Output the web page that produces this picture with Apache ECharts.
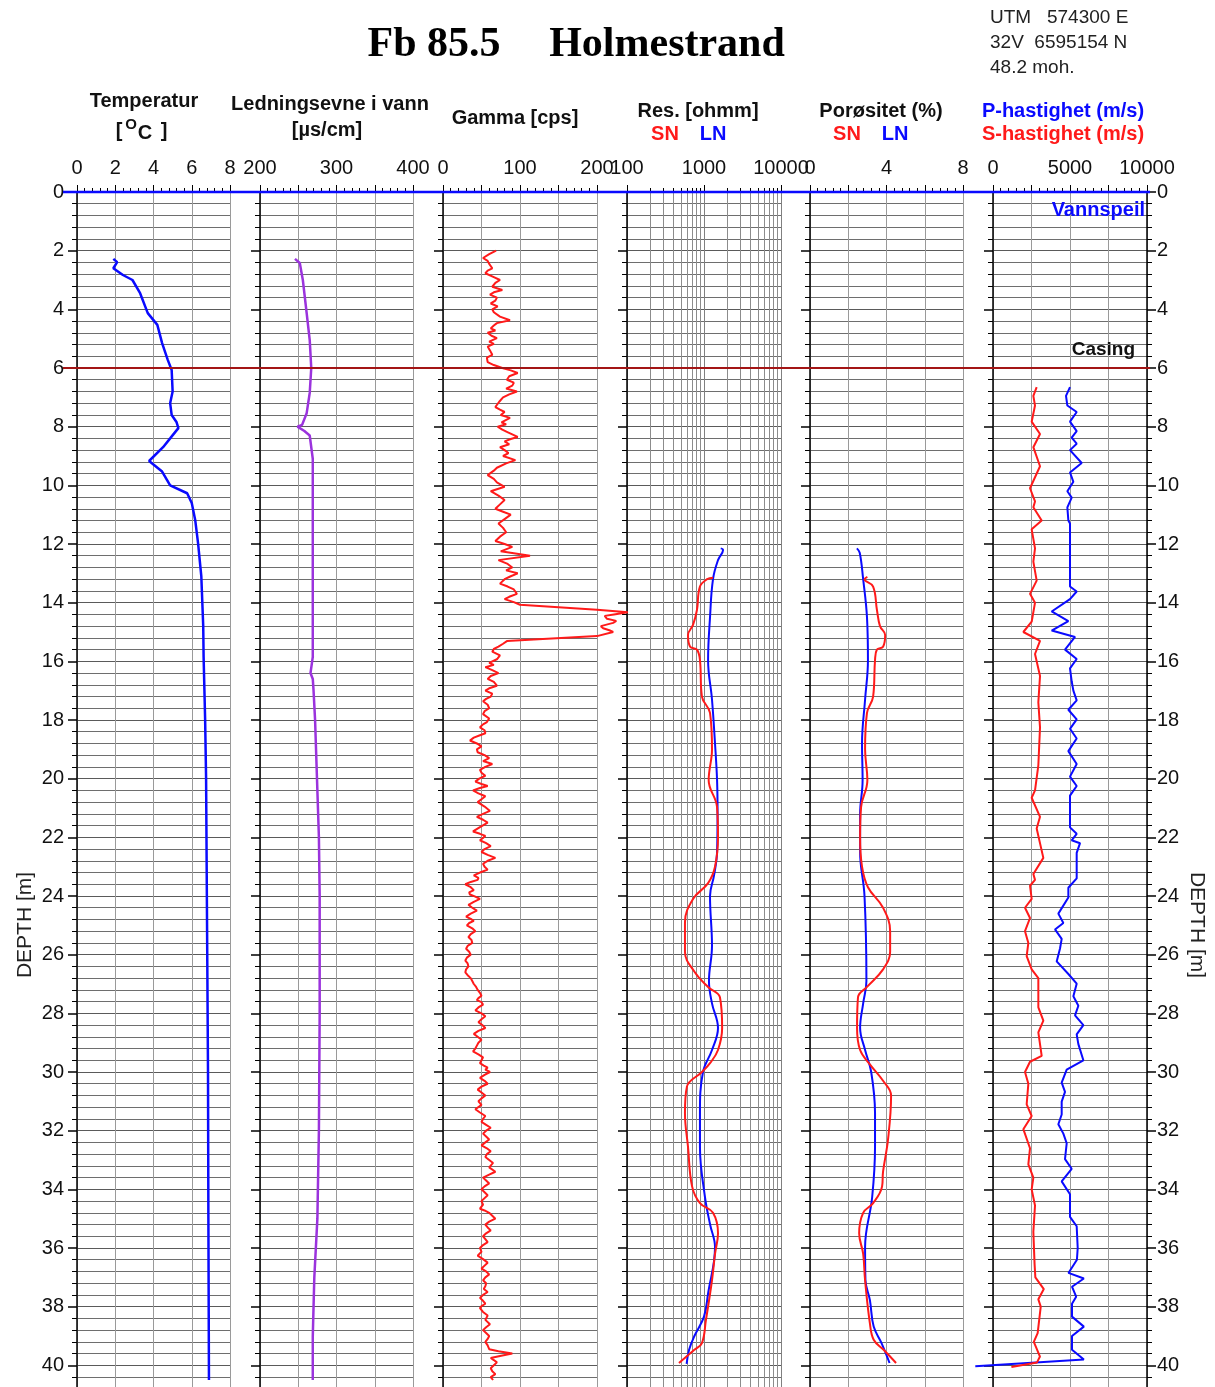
<!DOCTYPE html>
<html><head><meta charset="utf-8">
<script src="https://cdn.jsdelivr.net/npm/echarts@6/dist/echarts.min.js"></script>
<style>html,body{margin:0;padding:0;background:#fff;overflow:hidden}#c{width:1215px;height:1440px}</style>
</head><body><div id="c"></div>
<script>
// ---------------- DATA (depth [m], value) ----------------
const waterLevelDepth = 0;
const casingDepth = 6;

const temperature = [[2.28,1.9],[2.39,2.1],[2.6,1.9],[2.83,2.4],[3.0,2.9],[3.45,3.3],[4.13,3.7],[4.53,4.2],[5.15,4.45],[5.73,4.75],[6.07,4.95],[6.8,5.0],[7.2,4.87],[7.6,4.95],[7.84,5.2],[8.05,5.3],[8.4,4.87],[8.7,4.5],[9.17,3.77],[9.53,4.45],[10.0,4.87],[10.27,5.76],[10.6,6.0],[11.18,6.18],[11.97,6.33],[13.1,6.5],[14.8,6.6],[15.85,6.62],[18,6.7],[20,6.75],[25,6.8],[30,6.85],[35,6.87],[40.5,6.9]];

const conductivity = [[2.28,245.7],[2.42,252],[3.0,256],[4.13,261],[5.05,265],[6.0,267],[6.85,265],[7.54,261],[7.94,255],[8.0,249],[8.05,250],[8.15,258],[8.3,265],[9.1,269],[12,269],[15.85,269],[16.4,266],[16.6,269],[17,270],[18,272],[20,274.5],[22,277],[24,278],[28,278],[32,277],[35,275],[37,271],[39,269],[40.5,269]];

const gamma = [[2.0,69],[2.12,60],[2.25,52],[2.35,58],[2.45,60],[2.6,64],[2.68,58],[2.77,55],[2.9,66],[3.0,74],[3.1,68],[3.23,64],[3.34,77],[3.42,66],[3.5,61],[3.6,70],[3.7,68],[3.8,62],[3.9,71],[4.0,64],[4.1,66],[4.25,74],[4.37,87],[4.47,70],[4.55,66],[4.65,62],[4.72,68],[4.8,58],[4.9,63],[4.98,70],[5.1,60],[5.18,66],[5.27,58],[5.4,61],[5.55,64],[5.65,57],[5.8,58],[5.9,66],[6.0,77],[6.08,88],[6.17,97],[6.28,86],[6.4,83],[6.5,92],[6.6,90],[6.7,82],[6.8,96],[6.9,86],[7.0,78],[7.15,73],[7.33,68],[7.42,74],[7.5,80],[7.6,75],[7.7,87],[7.85,76],[7.92,82],[8.0,71],[8.1,77],[8.2,85],[8.35,97],[8.42,88],[8.5,80],[8.6,86],[8.7,74],[8.8,80],[8.9,85],[9.0,78],[9.14,94],[9.25,82],[9.4,70],[9.5,66],[9.65,58],[9.78,66],[9.9,70],[10.05,80],[10.2,62],[10.35,72],[10.5,80],[10.65,74],[10.8,68],[10.9,78],[11.0,88],[11.15,80],[11.3,72],[11.45,78],[11.6,82],[11.75,74],[11.9,68],[12.0,80],[12.1,90],[12.25,75],[12.4,113],[12.55,72],[12.68,84],[12.8,90],[12.9,82],[13.0,97],[13.1,88],[13.2,80],[13.35,74],[13.45,84],[13.55,92],[13.7,96],[13.8,86],[13.88,80],[13.98,92],[14.07,100],[14.24,200],[14.33,240],[14.4,222],[14.45,210],[14.55,213],[14.62,225],[14.69,221],[14.8,205],[14.87,208],[14.94,216],[15.0,221],[15.14,200],[15.31,83],[15.4,78],[15.5,72],[15.58,66],[15.67,64],[15.8,74],[15.93,70],[16.05,60],[16.12,66],[16.2,55],[16.3,64],[16.4,72],[16.5,62],[16.6,58],[16.7,66],[16.83,70],[16.92,60],[17.0,55],[17.1,64],[17.2,62],[17.28,56],[17.36,52],[17.48,58],[17.6,60],[17.7,54],[17.8,52],[17.95,60],[18.07,57],[18.15,52],[18.25,48],[18.35,54],[18.45,55],[18.52,48],[18.6,40],[18.7,35],[18.8,44],[18.9,50],[19.0,44],[19.1,45],[19.2,54],[19.3,60],[19.4,52],[19.5,64],[19.6,55],[19.7,48],[19.8,50],[19.9,55],[20.0,47],[20.1,42],[20.18,50],[20.25,58],[20.32,48],[20.4,39],[20.5,46],[20.6,55],[20.7,50],[20.8,45],[20.95,54],[21.1,61],[21.2,52],[21.3,44],[21.4,52],[21.5,58],[21.65,48],[21.8,39],[21.88,48],[21.95,55],[22.02,52],[22.1,48],[22.2,56],[22.3,62],[22.4,54],[22.5,50],[22.6,58],[22.7,68],[22.8,58],[22.9,52],[23.0,54],[23.1,58],[23.2,48],[23.3,40],[23.38,46],[23.45,45],[23.52,36],[23.6,29],[23.7,36],[23.8,40],[23.88,34],[23.95,35],[24.02,42],[24.1,48],[24.2,40],[24.3,33],[24.4,38],[24.5,44],[24.6,36],[24.7,30],[24.78,36],[24.85,40],[24.92,34],[25.0,31],[25.1,38],[25.2,42],[25.3,36],[25.4,33],[25.5,37],[25.6,38],[25.7,32],[25.8,30],[25.9,34],[26.0,36],[26.1,31],[26.2,29],[26.3,32],[26.4,33],[26.5,30],[26.6,29],[26.7,32],[26.8,36],[26.9,38],[27.0,40],[27.1,43],[27.2,45],[27.3,48],[27.4,50],[27.48,46],[27.55,44],[27.62,50],[27.7,52],[27.8,46],[27.9,42],[28.0,50],[28.1,55],[28.2,50],[28.3,46],[28.4,51],[28.5,55],[28.6,46],[28.7,40],[28.8,45],[28.9,50],[29.0,46],[29.1,44],[29.2,42],[29.3,39],[29.4,46],[29.5,52],[29.6,50],[29.7,48],[29.78,53],[29.85,58],[29.92,55],[30.0,61],[30.1,54],[30.2,48],[30.3,54],[30.4,58],[30.5,50],[30.6,45],[30.7,50],[30.8,55],[30.9,50],[31.0,46],[31.12,50],[31.27,42],[31.38,48],[31.5,55],[31.6,52],[31.7,50],[31.8,56],[31.9,62],[32.0,56],[32.1,52],[32.2,56],[32.3,60],[32.4,55],[32.5,50],[32.6,57],[32.7,62],[32.8,57],[32.9,55],[33.0,60],[33.1,65],[33.25,60],[33.4,68],[33.5,60],[33.6,52],[33.7,56],[33.8,60],[33.9,54],[34.0,50],[34.1,54],[34.2,58],[34.3,54],[34.4,50],[34.52,52],[34.66,48],[34.72,54],[34.8,60],[34.9,64],[35.0,68],[35.1,60],[35.2,55],[35.3,58],[35.4,62],[35.5,56],[35.6,52],[35.7,55],[35.8,58],[35.9,52],[36.0,48],[36.13,50],[36.26,45],[36.38,52],[36.5,58],[36.6,54],[36.7,50],[36.8,56],[36.9,60],[37.0,55],[37.1,52],[37.2,56],[37.3,55],[37.4,53],[37.5,58],[37.6,52],[37.7,48],[37.8,52],[37.9,55],[37.98,50],[38.05,48],[38.18,52],[38.3,58],[38.45,55],[38.6,61],[38.7,56],[38.8,52],[38.9,56],[39.0,60],[39.1,58],[39.2,55],[39.32,58],[39.45,60],[39.52,72],[39.6,90],[39.68,74],[39.75,62],[39.82,66],[39.9,70],[40.0,66],[40.1,62],[40.2,64],[40.3,68],[40.4,62],[40.5,65]];

const resLN = [[12.15,1650],[12.2,1770],[12.55,1520],[13.2,1309],[14.5,1197],[15.96,1130],[17.3,1270],[18.8,1390],[20.05,1478],[21.2,1500],[22.5,1478],[23.3,1350],[24.0,1197],[25.7,1270],[26.9,1160],[27.66,1270],[28.5,1520],[29.25,1270],[30.0,970],[31.4,886],[32.55,886],[34.27,1030],[35.2,1200],[35.97,1390],[37.55,1130],[38.34,1000],[39.0,750],[39.47,640],[39.95,595]];
const resSN = [[13.15,1309],[13.2,1100],[13.45,886],[14.25,810],[14.76,720],[15.1,620],[15.5,660],[15.6,810],[15.96,886],[17.2,940],[17.76,1197],[19.0,1270],[20.05,1150],[20.97,1478],[22.0,1520],[23.0,1390],[23.56,1130],[24.1,720],[24.9,566],[25.9,566],[26.6,760],[27.1,1130],[27.45,1610],[28.5,1720],[29.25,1520],[29.7,1197],[30.0,940],[30.5,600],[31.4,566],[32.55,620],[33.9,700],[34.47,886],[34.8,1309],[35.5,1520],[36.2,1390],[37.1,1270],[38.45,1060],[39.24,940],[39.47,750],[39.92,473]];

const poroLN = [[12.15,2.45],[12.3,2.6],[13.2,2.78],[14.5,2.98],[15.96,3.03],[17.3,2.88],[18.8,2.72],[20.05,2.75],[21.2,2.62],[22.5,2.62],[24.0,2.85],[26.9,2.95],[27.66,2.78],[28.5,2.62],[29.25,2.88],[30.0,3.2],[31.4,3.4],[32.55,3.4],[34.27,3.25],[35.97,2.88],[37.1,2.9],[37.77,3.13],[38.68,3.33],[39.24,3.74],[39.92,4.16]];
const poroSN = [[13.12,3.0],[13.2,2.85],[13.45,3.3],[14.25,3.5],[14.8,3.66],[15.1,3.93],[15.5,3.82],[15.6,3.5],[15.96,3.4],[17.2,3.3],[17.76,2.98],[19.0,2.88],[20.05,3.0],[20.97,2.67],[22.0,2.62],[23.0,2.72],[23.7,3.03],[24.4,3.82],[25.2,4.19],[25.9,4.19],[26.5,3.82],[27.1,2.98],[27.45,2.51],[28.5,2.46],[29.25,2.62],[29.75,3.14],[30.3,3.82],[30.8,4.24],[32.3,4.08],[33.4,3.82],[33.9,3.77],[34.47,3.3],[34.8,2.78],[35.5,2.57],[36.2,2.78],[37.1,2.88],[38.56,3.13],[39.13,3.33],[39.47,3.85],[39.92,4.5]];

const velP = [[6.65,5000],[6.95,4741],[7.28,4828],[7.5,5434],[7.83,5000],[8.15,5434],[8.37,5109],[8.58,5434],[8.8,5000],[9.24,5759],[9.56,5000],[9.88,5218],[10.2,4828],[10.42,5109],[10.75,4828],[11.2,4893],[11.3,5000],[13.45,5000],[13.62,5434],[13.88,5000],[14.3,3810],[14.63,4893],[14.95,3810],[15.17,5326],[15.6,4676],[15.92,5434],[16.24,5000],[16.68,5109],[17.0,5218],[17.33,5434],[17.65,4893],[17.98,5434],[18.3,5000],[18.63,5434],[19.06,4893],[19.5,5434],[19.93,5000],[20.25,5434],[20.58,5000],[21.66,5000],[21.88,5434],[22.1,5109],[22.2,5651],[22.53,5434],[23.4,5434],[23.72,4893],[24.05,4893],[24.6,4243],[24.92,4568],[25.14,4027],[25.46,4460],[25.79,4352],[26.23,4135],[26.66,4893],[26.99,5434],[27.42,5218],[27.74,5543],[28.07,5326],[28.4,5867],[28.72,5434],[29.05,5543],[29.6,5867],[29.92,4785],[30.36,4460],[30.68,4676],[31.01,4460],[31.45,4460],[31.78,4243],[32.1,4568],[32.43,4785],[32.97,4676],[33.3,5109],[33.73,4460],[34.17,5000],[34.94,5000],[35.26,5434],[36.0,5500],[36.4,5450],[36.85,4900],[37.04,5900],[37.32,5130],[37.66,5400],[37.9,5130],[38.34,5130],[38.68,5900],[39.0,5130],[39.47,5130],[39.8,5900],[40.03,-1150]];
const velS = [[6.65,2836],[6.95,2620],[7.28,2728],[7.83,2511],[8.25,3053],[8.7,2620],[9.35,3053],[10.1,2403],[10.55,2728],[10.75,2620],[11.2,3161],[11.5,2511],[12.15,2728],[12.6,2620],[13.25,2836],[13.7,2403],[14.0,2728],[14.65,2511],[15.0,1970],[15.3,3053],[15.75,2728],[16.5,3053],[17.4,2944],[18.25,3053],[19.55,2944],[20.4,2728],[20.65,2511],[21.3,3053],[21.7,2836],[22.7,3269],[23.25,2620],[23.45,2728],[23.65,2403],[24.1,2511],[24.4,2078],[24.75,2403],[25.2,2078],[25.6,2295],[26.05,2187],[26.5,2511],[26.8,2944],[27.8,2944],[28.25,3269],[28.65,2944],[29.45,3161],[29.65,2403],[30.0,2078],[30.4,2295],[31.1,2187],[31.5,2511],[31.95,1970],[32.6,2403],[33.15,2295],[33.6,2620],[34.0,2511],[34.55,2728],[35.45,2620],[36.55,2700],[37.0,2750],[37.4,3300],[37.75,2944],[38.0,3100],[38.9,2900],[39.2,2650],[39.7,3050],[39.9,2857],[40.06,1195]];

// tick labels shown on each track's top axis
const tempLabels = [0,2,4,6,8];
const condLabels = [200,300,400];
const gammaLabels = [0,100,200];
const resLabels = [100,1000,10000];
const poroLabels = [0,4,8];
const velLabels = [0,5000,10000];

// ---------------- CHART ----------------
const FONT = '"Liberation Sans", Arial, sans-serif';
const BLUE = '#0a0aff', RED = '#ff1a1a', PURPLE = '#9b33dd', DARKRED = '#a31515';
const TOP = 192, H = 1232;
const tracks = [
  {left:77, width:153}, {left:260, width:153}, {left:443, width:154},
  {left:627, width:154}, {left:810, width:153}, {left:993, width:154}
];
const grids = tracks.map(g => ({left:g.left, width:g.width, top:TOP, height:H}));
// overlay grids (same scale) so curves may overshoot their track like in the original log
const GAMMA_OVER = 1.2;   // gamma drawn on 0..240 (same px/cps)
const VEL_UNDER = 0.15;   // velocity drawn on -1500..10000 (same px per m/s)
grids.push({left: tracks[2].left, width: tracks[2].width * GAMMA_OVER, top: TOP, height: H});
grids.push({left: tracks[5].left - tracks[5].width * VEL_UNDER, width: tracks[5].width * (1 + VEL_UNDER), top: TOP, height: H});

function xAx(gi, min, max, interval, labels, isLog) {
  const a = {
    gridIndex: gi, type: isLog ? 'log' : 'value', position: 'top', min: min, max: max,
    axisLine: {show: true, onZero: false, lineStyle: {color: '#000', width: 1}},
    axisTick: {show: true, length: 7, lineStyle: {color: '#000', width: 1}},
    minorTick: {show: true, splitNumber: isLog ? 9 : 5, length: 4, lineStyle: {color: '#000', width: 1}},
    axisLabel: {show: true, fontSize: 20, color: '#111', fontFamily: FONT, margin: 14,
      showMinLabel: true, showMaxLabel: true,
      formatter: v => labels.indexOf(Math.round(v)) >= 0 ? String(Math.round(v)) : ''},
    splitLine: {show: true, lineStyle: {color: isLog ? '#808080' : '#9a9a9a', width: 1}},
    minorSplitLine: {show: !!isLog, lineStyle: {color: '#8c8c8c', width: 1}}
  };
  if (isLog) { a.logBase = 10; } else { a.interval = interval; }
  return a;
}
function hiddenX(gi, min, max) {
  return {gridIndex: gi, type: 'value', min: min, max: max, show: false,
    axisLine: {show: false}, axisTick: {show: false}, axisLabel: {show: false}, splitLine: {show: false}};
}
function hiddenY(gi) {
  return {gridIndex: gi, type: 'value', inverse: true, min: 0, max: 42, show: false,
    axisLine: {show: false}, axisTick: {show: false}, axisLabel: {show: false}, splitLine: {show: false}};
}
function yAx(gi, showLabel, pos, grid) {
  return {
    gridIndex: gi, type: 'value', inverse: true, min: 0, max: 42, interval: 2, position: pos || 'left',
    axisLine: {show: true, onZero: false, lineStyle: {color: '#000', width: 1.5}},
    axisTick: {show: true, length: 9, lineStyle: {color: '#000', width: 1.5}},
    minorTick: {show: true, splitNumber: 5, length: 5, lineStyle: {color: '#000', width: 1}},
    axisLabel: {show: showLabel, fontSize: 20, color: '#111', fontFamily: FONT, margin: pos === 'right' ? 10 : 13,
      formatter: v => (v <= 40 ? String(v) : '')},
    splitLine: {show: grid !== false, lineStyle: {color: '#5a5a5a', width: 1}},
    minorSplitLine: {show: grid !== false, lineStyle: {color: '#6e6e6e', width: 1}}
  };
}
const flip = arr => arr.map(p => [p[1], p[0]]);
function line(name, data, xi, yi, color, width, smooth) {
  return {name: name, type: 'line', xAxisIndex: xi, yAxisIndex: yi, data: flip(data),
    showSymbol: false, symbol: 'none', smooth: smooth || false, clip: true,
    lineStyle: {color: color, width: width}, itemStyle: {color: color}, z: 5, silent: true};
}

const chart = echarts.init(document.getElementById('c'), null, {renderer: 'canvas'});
chart.setOption({
  animation: false,
  backgroundColor: '#fff',
  grid: grids,
  xAxis: [
    xAx(0, 0, 8, 2, tempLabels),
    xAx(1, 200, 400, 50, condLabels),
    xAx(2, 0, 200, 50, gammaLabels),
    xAx(3, 100, 10000, null, resLabels, true),
    xAx(4, 0, 8, 2, poroLabels),
    xAx(5, 0, 10000, 2500, velLabels),
    hiddenX(6, 0, 200 * GAMMA_OVER),
    hiddenX(7, -10000 * VEL_UNDER, 10000)
  ],
  yAxis: [
    yAx(0, true), yAx(1, false), yAx(2, false), yAx(3, false), yAx(4, false), yAx(5, false),
    yAx(5, true, 'right', false),
    hiddenY(6), hiddenY(7)
  ],
  series: [
    line('Temperatur', temperature, 0, 0, BLUE, 2.5),
    line('Ledningsevne', conductivity, 1, 1, PURPLE, 2.5),
    line('Gamma', gamma, 6, 7, RED, 2),
    line('Res LN', resLN, 3, 3, BLUE, 2, 0.4),
    line('Res SN', resSN, 3, 3, RED, 2, 0.4),
    line('Por LN', poroLN, 4, 4, BLUE, 2, 0.4),
    line('Por SN', poroSN, 4, 4, RED, 2, 0.4),
    line('P-hastighet', velP, 7, 8, BLUE, 2),
    line('S-hastighet', velS, 7, 8, RED, 2)
  ]
});

const yWater = chart.convertToPixel({gridIndex: 0}, [0, waterLevelDepth])[1];
const yCasing = chart.convertToPixel({gridIndex: 0}, [0, casingDepth])[1];

function txt(text, x, y, size, color, weight, align, family, rot) {
  return {type: 'text', x: x, y: y, rotation: rot || 0, z: 50, silent: true,
    style: {text: text, fill: color || '#111', fontSize: size, fontWeight: weight || 'normal',
      fontFamily: family || FONT, align: align || 'center', verticalAlign: 'middle',
      textAlign: align || 'center', textVerticalAlign: 'middle'}};
}
chart.setOption({
  graphic: [
    {type: 'line', z: 40, silent: true, shape: {x1: 63, y1: yWater, x2: 1150, y2: yWater}, style: {stroke: BLUE, lineWidth: 2.5}},
    {type: 'line', z: 40, silent: true, shape: {x1: 63, y1: yCasing, x2: 1150, y2: yCasing}, style: {stroke: DARKRED, lineWidth: 2}},
    txt('Fb 85.5', 434, 45, 42, '#000', 'bold', 'center', '"Liberation Serif", "Times New Roman", serif'),
    txt('Holmestrand', 667, 45, 42, '#000', 'bold', 'center', '"Liberation Serif", "Times New Roman", serif'),
    txt('UTM   574300 E', 990, 18, 19, '#222', 'normal', 'left'),
    txt('32V  6595154 N', 990, 43, 19, '#222', 'normal', 'left'),
    txt('48.2 moh.', 990, 68, 19, '#222', 'normal', 'left'),
    txt('Temperatur', 144, 101, 20, '#111', 'bold'),
    txt('[', 119, 131, 20, '#111', 'bold'),
    txt('O', 131, 125, 15, '#111', 'bold'),
    txt('C', 145, 133, 20, '#111', 'bold'),
    txt(']', 164, 131, 20, '#111', 'bold'),
    txt('Ledningsevne i vann', 330, 104, 20, '#111', 'bold'),
    txt('[\u00b5s/cm]', 327, 130, 20, '#111', 'bold'),
    txt('Gamma [cps]', 515, 118, 20, '#111', 'bold'),
    txt('Res. [ohmm]', 698, 111, 20, '#111', 'bold'),
    txt('SN', 665, 134, 20, RED, 'bold'),
    txt('LN', 713, 134, 20, BLUE, 'bold'),
    txt('Por\u00f8sitet (%)', 881, 111, 20, '#111', 'bold'),
    txt('SN', 847, 134, 20, RED, 'bold'),
    txt('LN', 895, 134, 20, BLUE, 'bold'),
    txt('P-hastighet (m/s)', 1063, 111, 20, BLUE, 'bold'),
    txt('S-hastighet (m/s)', 1063, 134, 20, RED, 'bold'),
    txt('DEPTH [m]', 25, 925, 21, '#222', 'normal', 'center', null, Math.PI / 2),
    txt('DEPTH [m]', 1197, 925, 21, '#222', 'normal', 'center', null, -Math.PI / 2),
    txt('Vannspeil', 1145, 210, 20, BLUE, 'bold', 'right'),
    txt('Casing', 1135, 350, 19, '#111', 'bold', 'right')
  ]
});
</script></body></html>
